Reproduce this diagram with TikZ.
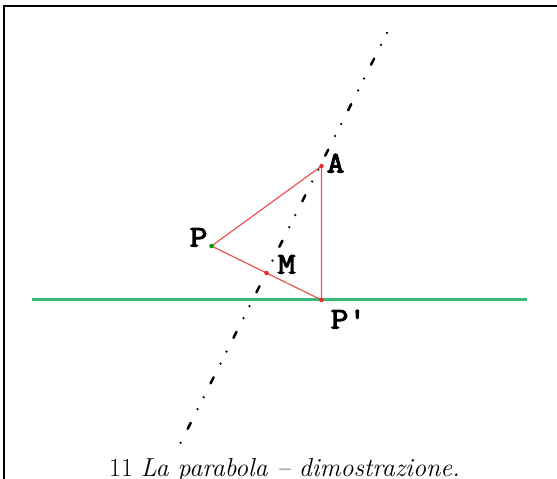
\documentclass[tikz,border=0pt]{standalone}
\usepackage{fontspec}
\newfontfamily\labfont[FakeBold=3.5,FakeStretch=1.15]{Latin Modern Mono}
\usetikzlibrary{calc}
\definecolor{greenline}{RGB}{55,185,120}
\definecolor{redline}{RGB}{240,80,80}
\definecolor{reddot}{RGB}{230,40,40}
\tikzset{
  lab/.style={inner sep=0pt, anchor=base west, font=\labfont\fontsize{30}{34}\selectfont},
  tri/.style={draw=redline, line width=1.2pt},
  dotpt/.style={circle, fill=reddot, inner sep=0pt, minimum size=4.5pt},
  axis/.style={line width=2.5pt, line cap=round,
     dash pattern=on 6.8pt off 15.3pt on 0pt off 13.4pt on 0pt off 15.47pt,
     dash phase=34.5pt},
}
\begin{document}
\begin{tikzpicture}[x=1pt,y=-1pt]
\useasboundingbox (0,0) rectangle (557,479);
% frame (cropped)
\draw[line width=2pt] (3.7,479) -- (3.7,5.7) -- (557,5.7);
% directrix
\coordinate (dl) at (32,299.3);
\coordinate (dr) at (527,299.3);
\draw[greenline, line width=3pt] (dl) -- (dr);
% points
\coordinate (A) at (321.5,166);
\coordinate (P) at (211.5,246);
\coordinate (M) at (266.5,273);
\coordinate (Pp) at (321.5,300);
% axis
\coordinate (B) at (180.7,442.7);
\coordinate (T) at (387,33);
\draw[axis] ($(B)!-1pt!(T)$) -- ($(T)!-1pt!(B)$);
% triangle
\draw[tri] (P) -- (A) -- (Pp) -- cycle;
\node[dotpt] (dA) at (A) {};
\node[dotpt] (dM) at (M) {};
\node[dotpt] (dPp) at (Pp) {};
\node[circle, fill=green!60!black, inner sep=0pt, minimum size=4.5pt] (dP) at (P) {};
% labels
\node[lab] (lA) at (326.5,172.5) {A};
\node[lab] (lP) at (189.5,246.5) {P};
\node[lab] (lM) at (277.5,273.5) {M};
\node[lab] (lPp) at (330.5,328.5) {P'};
% caption
\node[inner sep=0pt, anchor=base, font=\fontsize{26}{30}\selectfont] (cap) at (284.5,476.7) {11 \textit{La parabola -- dimostrazione.}};
\end{tikzpicture}
\end{document}
